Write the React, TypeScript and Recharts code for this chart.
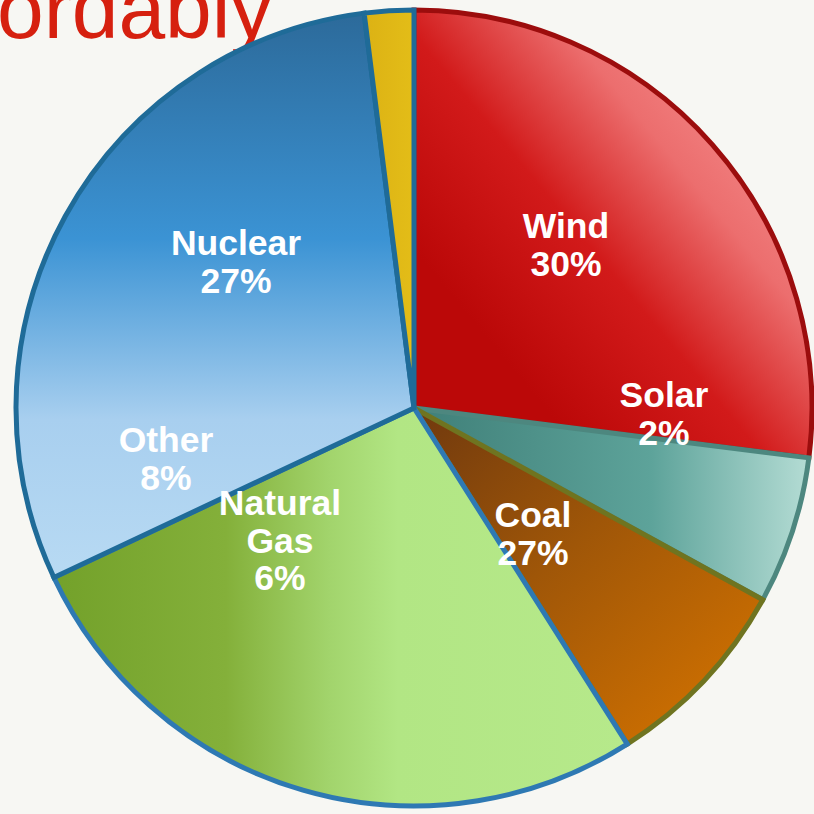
import React from "react";
import { PieChart, Pie, Cell } from "recharts";

const sourceNames = ["Coal", "Natural Gas", "Other", "Nuclear", "Wind", "Solar"];
const shareValues = [27, 6, 8, 27, 30, 2];
const titleFragment = "ordably";

const data = sourceNames.map((name, i) => ({ name, value: shareValues[i] }));

const gradIds = ["gRed", "gTeal", "gOrange", "gGreen", "gBlue", "gYellow"];
const strokeColors = ["#9c0d0d", "#4d877f", "#6f7420", "#2e79b3", "#1f6b98", "#1f6b98"];

// label placement relative to pie centre (layout only)
const labelLayout: Record<string, { dx: number; dy: number }> = {
  Coal: { dx: 119, dy: 119 },
  "Natural Gas": { dx: -134, dy: 107 },
  Other: { dx: -248, dy: 44 },
  Nuclear: { dx: -178, dy: -153 },
  Wind: { dx: 152, dy: -170 },
  Solar: { dx: 250, dy: -1 },
};

const renderLabel = (props: any) => {
  const { cx, cy, index, percent } = props;
  const name = sourceNames[index];
  const pos = labelLayout[name];
  const lines = [...name.split(" "), `${Math.round(percent * 100)}%`];
  return (
    <text
      key={`lbl-${index}`}
      x={cx + pos.dx}
      y={cy + pos.dy}
      textAnchor="middle"
      fill="#ffffff"
      fontFamily="'Liberation Sans', Arial, sans-serif"
      fontWeight="bold"
      fontSize={35.5}
    >
      {lines.map((l, k) => (
        <tspan key={k} x={cx + pos.dx} dy={k === 0 ? 0 : 37.5}>
          {l}
        </tspan>
      ))}
    </text>
  );
};

export default function App() {
  return (
    <div
      style={{
        position: "fixed",
        left: 0,
        top: 0,
        width: 814,
        height: 814,
        background: "#f7f7f3",
        overflow: "hidden",
      }}
    >
      <svg width={814} height={814} style={{ position: "absolute", left: 0, top: 0 }}>
        <text
          x={-3}
          y={38}
          fill="#d6200f"
          fontFamily="'Liberation Sans', Arial, sans-serif"
          fontSize={84}
        >
          {titleFragment}
        </text>
      </svg>
      <div style={{ position: "absolute", left: 0, top: 0 }}>
        <PieChart width={814} height={814} margin={{ top: 0, right: 0, bottom: 0, left: 0 }}>
          <defs>
            <linearGradient id="gRed" x1="0.95" y1="0.05" x2="0.2" y2="0.75">
              <stop offset="0" stopColor="#fb9e9e" />
              <stop offset="0.4" stopColor="#ec6e6e" />
              <stop offset="0.68" stopColor="#d21a1a" />
              <stop offset="1" stopColor="#bb0808" />
            </linearGradient>
            <linearGradient id="gTeal" x1="0" y1="0" x2="1" y2="0">
              <stop offset="0" stopColor="#3f7f78" />
              <stop offset="0.6" stopColor="#5da39a" />
              <stop offset="1" stopColor="#b4dcd4" />
            </linearGradient>
            <linearGradient id="gOrange" x1="0" y1="0" x2="0.9" y2="1">
              <stop offset="0" stopColor="#70390e" />
              <stop offset="0.45" stopColor="#9f5608" />
              <stop offset="1" stopColor="#d47300" />
            </linearGradient>
            <linearGradient id="gGreen" x1="0" y1="0" x2="1" y2="0">
              <stop offset="0" stopColor="#73a12a" />
              <stop offset="0.3" stopColor="#84b03a" />
              <stop offset="0.48" stopColor="#a2d46c" />
              <stop offset="0.6" stopColor="#b2e684" />
              <stop offset="1" stopColor="#b6e98b" />
            </linearGradient>
            <linearGradient id="gBlue" x1="0" y1="0" x2="0" y2="1">
              <stop offset="0" stopColor="#2c6a9a" />
              <stop offset="0.4" stopColor="#3b93d4" />
              <stop offset="0.72" stopColor="#a8cfef" />
              <stop offset="1" stopColor="#b8daf3" />
            </linearGradient>
            <linearGradient id="gYellow" x1="0" y1="0" x2="1" y2="0">
              <stop offset="0" stopColor="#dcb214" />
              <stop offset="1" stopColor="#e3bd18" />
            </linearGradient>
          </defs>
          <Pie
            data={data}
            dataKey="value"
            nameKey="name"
            cx={414}
            cy={408}
            outerRadius={398}
            startAngle={90}
            endAngle={-270}
            isAnimationActive={false}
            label={renderLabel}
            labelLine={false}
          >
            {data.map((d, i) => (
              <Cell
                key={d.name}
                fill={`url(#${gradIds[i]})`}
                stroke={strokeColors[i]}
                strokeWidth={5}
                strokeLinejoin="miter"
              />
            ))}
          </Pie>
        </PieChart>
      </div>
    </div>
  );
}
